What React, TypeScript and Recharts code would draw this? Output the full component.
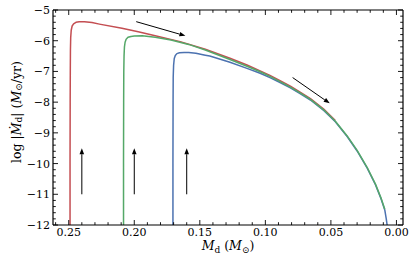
import React from 'react';
import { LineChart, Line, XAxis, YAxis, ReferenceLine } from 'recharts';

const FONT = '"DejaVu Serif", serif';

// ---- data ----
const redMass = [0.249, 0.249, 0.2489, 0.2488, 0.2487, 0.2485, 0.2481, 0.2474, 0.2463, 0.2445, 0.242, 0.238, 0.2323, 0.2266, 0.2094, 0.197, 0.184, 0.165, 0.1458, 0.127, 0.114, 0.104, 0.0965, 0.0888, 0.0809, 0.0735, 0.0656, 0.0555, 0.0466];
const redRate = [-12, -10, -8, -7, -6.3, -5.9, -5.66, -5.52, -5.45, -5.4, -5.38, -5.38, -5.41, -5.46, -5.595, -5.71, -5.835, -6.03, -6.28, -6.57, -6.79, -6.98, -7.13, -7.3, -7.48, -7.675, -7.885, -8.225, -8.6];

const greenMass = [0.2082, 0.2082, 0.2081, 0.208, 0.2078, 0.2075, 0.207, 0.2062, 0.2048, 0.2025, 0.2, 0.194, 0.184, 0.172, 0.1585, 0.1458, 0.127, 0.114, 0.104, 0.0965, 0.0888, 0.0809, 0.0735, 0.0656, 0.0555, 0.0466, 0.0376, 0.03, 0.0224, 0.016, 0.0117, 0.0089];
const greenRate = [-12, -10, -8, -7, -6.5, -6.2, -6.05, -5.95, -5.89, -5.86, -5.845, -5.84, -5.89, -5.98, -6.12, -6.3, -6.61, -6.83, -7.01, -7.16, -7.33, -7.51, -7.7, -7.91, -8.25, -8.62, -9.1, -9.57, -10.12, -10.67, -11.13, -11.49];

const blueMass = [0.1705, 0.1705, 0.1704, 0.1703, 0.17, 0.1695, 0.1687, 0.1675, 0.1655, 0.162, 0.1585, 0.153, 0.1458, 0.1424, 0.127, 0.114, 0.104, 0.0965, 0.0888, 0.0809, 0.0735, 0.0656, 0.0555, 0.0466, 0.0376, 0.03, 0.0224, 0.016, 0.0117, 0.0089, 0.0078, 0.0071];
const blueRate = [-12, -10, -8, -7.2, -6.8, -6.58, -6.48, -6.42, -6.39, -6.38, -6.38, -6.41, -6.47, -6.5, -6.7, -6.9, -7.06, -7.2, -7.36, -7.535, -7.72, -7.93, -8.27, -8.64, -9.12, -9.59, -10.14, -10.69, -11.15, -11.51, -11.79, -12];

// arrows: start (x, y) -> end (x, y)
const arrowStartX = [0.24, 0.2, 0.16, 0.1985, 0.0792];
const arrowStartY = [-11, -11, -11, -5.38, -7.2];
const arrowEndX = [0.24, 0.2, 0.16, 0.161, 0.0509];
const arrowEndY = [-9.5, -9.5, -9.5, -5.84, -8.04];

// ---- axes ----
const xDomain = [-0.005, 0.262];
const yDomain = [-12, -5];
const xMajorTicks = [0.25, 0.2, 0.15, 0.1, 0.05, 0];
const xMajorLabels = ['0.25', '0.20', '0.15', '0.10', '0.05', '0.00'];
const xAllTicks = [0.26, 0.25, 0.24, 0.23, 0.22, 0.21, 0.2, 0.19, 0.18, 0.17, 0.16, 0.15, 0.14, 0.13, 0.12, 0.11, 0.1, 0.09, 0.08, 0.07, 0.06, 0.05, 0.04, 0.03, 0.02, 0.01, 0];
const yMajorTicks = [-12, -11, -10, -9, -8, -7, -6, -5];
const yMajorLabels = ['\u221212', '\u221211', '\u221210', '\u22129', '\u22128', '\u22127', '\u22126', '\u22125'];
const yAllTicks = [-12, -11.8, -11.6, -11.4, -11.2, -11, -10.8, -10.6, -10.4, -10.2, -10, -9.8, -9.6, -9.4, -9.2, -9, -8.8, -8.6, -8.4, -8.2, -8, -7.8, -7.6, -7.4, -7.2, -7, -6.8, -6.6, -6.4, -6.2, -6, -5.8, -5.6, -5.4, -5.2, -5];

const toPts = (xs: number[], ys: number[]) => xs.map((x, i) => ({ x, y: ys[i] }));
const redData = toPts(redMass, redRate);
const greenData = toPts(greenMass, greenRate);
const blueData = toPts(blueMass, blueRate);

const MAJ = 5;
const MIN = 2.8;
const TW = 0.9;

const findIdx = (arr: number[], v: number) => arr.findIndex((t) => Math.abs(t - v) < 1e-6);

const BottomTick = (p: any) => {
  const { x, y, payload } = p;
  const i = findIdx(xMajorTicks, payload.value);
  const major = i >= 0;
  return (
    <g>
      <line x1={x} x2={x} y1={y} y2={y - (major ? MAJ : MIN)} stroke="#000" strokeWidth={TW} />
      {major && (
        <text x={x} y={y + 11} textAnchor="middle" fontSize={11} fontFamily={FONT} fill="#000">
          {xMajorLabels[i]}
        </text>
      )}
    </g>
  );
};

const TopTick = (p: any) => {
  const { x, y, payload } = p;
  const major = findIdx(xMajorTicks, payload.value) >= 0;
  return <line x1={x} x2={x} y1={y} y2={y + (major ? MAJ : MIN)} stroke="#000" strokeWidth={TW} />;
};

const LeftTick = (p: any) => {
  const { x, y, payload } = p;
  const i = findIdx(yMajorTicks, payload.value);
  const major = i >= 0;
  return (
    <g>
      <line x1={x} x2={x + (major ? MAJ : MIN)} y1={y} y2={y} stroke="#000" strokeWidth={TW} />
      {major && (
        <text x={x - 3} y={y + 4} textAnchor="end" fontSize={11} fontFamily={FONT} fill="#000">
          {yMajorLabels[i]}
        </text>
      )}
    </g>
  );
};

const RightTick = (p: any) => {
  const { x, y, payload } = p;
  const major = findIdx(yMajorTicks, payload.value) >= 0;
  return <line x1={x} x2={x - (major ? MAJ : MIN)} y1={y} y2={y} stroke="#000" strokeWidth={TW} />;
};

const Arrow = (p: any) => {
  const { x1, y1, x2, y2 } = p;
  const dx = x2 - x1;
  const dy = y2 - y1;
  const len = Math.sqrt(dx * dx + dy * dy) || 1;
  const ux = dx / len;
  const uy = dy / len;
  const hl = 6;
  const hw = 2.3;
  const bx = x2 - ux * hl;
  const by = y2 - uy * hl;
  const pts = `${x2},${y2} ${bx - uy * hw},${by + ux * hw} ${bx + uy * hw},${by - ux * hw}`;
  return (
    <g>
      <line x1={x1} y1={y1} x2={bx} y2={by} stroke="#000" strokeWidth={1} />
      <polygon points={pts} fill="#000" />
    </g>
  );
};

const XLabel = (p: any) => {
  const vb = p.viewBox || { x: 53, y: 225, width: 350 };
  const cx = vb.x + vb.width / 2;
  return (
    <text x={cx} y={vb.y + 25} textAnchor="middle" fontSize={12.5} fontFamily={FONT} fill="#000">
      <tspan fontStyle="italic">M</tspan>
      <tspan dy={2.5} fontSize={9}>d</tspan>
      <tspan dy={-2.5}> (</tspan>
      <tspan fontStyle="italic">M</tspan>
      <tspan dy={2.5} fontSize={9}>{'\u2299'}</tspan>
      <tspan dy={-2.5}>)</tspan>
    </text>
  );
};

const YLabel = () => {
  const cy = 112;
  const cx = 16;
  return (
    <text
      x={cx}
      y={cy}
      transform={`rotate(-90 ${cx} ${cy})`}
      textAnchor="middle"
      dominantBaseline="central"
      fontSize={12.5}
      fontFamily={FONT}
      fill="#000"
    >
      <tspan>log |</tspan>
      <tspan fontStyle="italic">{'\u1E40'}</tspan>
      <tspan dy={2.5} fontSize={9}>d</tspan>
      <tspan dy={-2.5}>| (</tspan>
      <tspan fontStyle="italic">M</tspan>
      <tspan dy={2.5} fontSize={9}>{'\u2299'}</tspan>
      <tspan dy={-2.5}>/yr)</tspan>
    </text>
  );
};

export default function App() {
  return (
    <div style={{ position: 'absolute', left: 0, top: 0, width: 415, height: 261, background: '#fff' }}>
      <LineChart width={415} height={261} margin={{ top: 9, right: 11, bottom: 0, left: 0 }}>
        <XAxis
          xAxisId="b"
          dataKey="x"
          type="number"
          domain={xDomain}
          reversed
          allowDataOverflow
          ticks={xAllTicks}
          interval={0}
          height={36}
          tickSize={0}
          tickMargin={0}
          tickLine={false}
          tick={BottomTick}
          axisLine={{ stroke: '#000', strokeWidth: 1.2 }}
          label={{ content: XLabel }}
        />
        <XAxis
          xAxisId="t"
          orientation="top"
          dataKey="x"
          type="number"
          domain={xDomain}
          reversed
          allowDataOverflow
          ticks={xAllTicks}
          interval={0}
          height={1}
          tickSize={0}
          tickMargin={0}
          tickLine={false}
          tick={TopTick}
          axisLine={{ stroke: '#000', strokeWidth: 1.2 }}
        />
        <YAxis
          yAxisId="l"
          dataKey="y"
          type="number"
          domain={yDomain}
          allowDataOverflow
          ticks={yAllTicks}
          interval={0}
          width={53}
          tickSize={0}
          tickMargin={0}
          tickLine={false}
          tick={LeftTick}
          axisLine={{ stroke: '#000', strokeWidth: 1.2 }}
          label={{ content: YLabel }}
        />
        <YAxis
          yAxisId="r"
          orientation="right"
          dataKey="y"
          type="number"
          domain={yDomain}
          allowDataOverflow
          ticks={yAllTicks}
          interval={0}
          width={1}
          tickSize={0}
          tickMargin={0}
          tickLine={false}
          tick={RightTick}
          axisLine={{ stroke: '#000', strokeWidth: 1.2 }}
        />
        <Line data={redData} dataKey="y" xAxisId="b" yAxisId="l" type="linear" stroke="#c44e52" strokeWidth={1.5} strokeLinejoin="round" dot={false} isAnimationActive={false} />
        <Line data={blueData} dataKey="y" xAxisId="b" yAxisId="l" type="linear" stroke="#4c72b0" strokeWidth={1.5} strokeLinejoin="round" dot={false} isAnimationActive={false} />
        <Line data={greenData} dataKey="y" xAxisId="b" yAxisId="l" type="linear" stroke="#55a868" strokeWidth={1.5} strokeLinejoin="round" dot={false} isAnimationActive={false} />
        {arrowStartX.map((sx, i) => (
          <ReferenceLine
            key={i}
            xAxisId="b"
            yAxisId="l"
            segment={[
              { x: sx, y: arrowStartY[i] },
              { x: arrowEndX[i], y: arrowEndY[i] },
            ]}
            shape={Arrow}
            ifOverflow="visible"
          />
        ))}
      </LineChart>
    </div>
  );
}
